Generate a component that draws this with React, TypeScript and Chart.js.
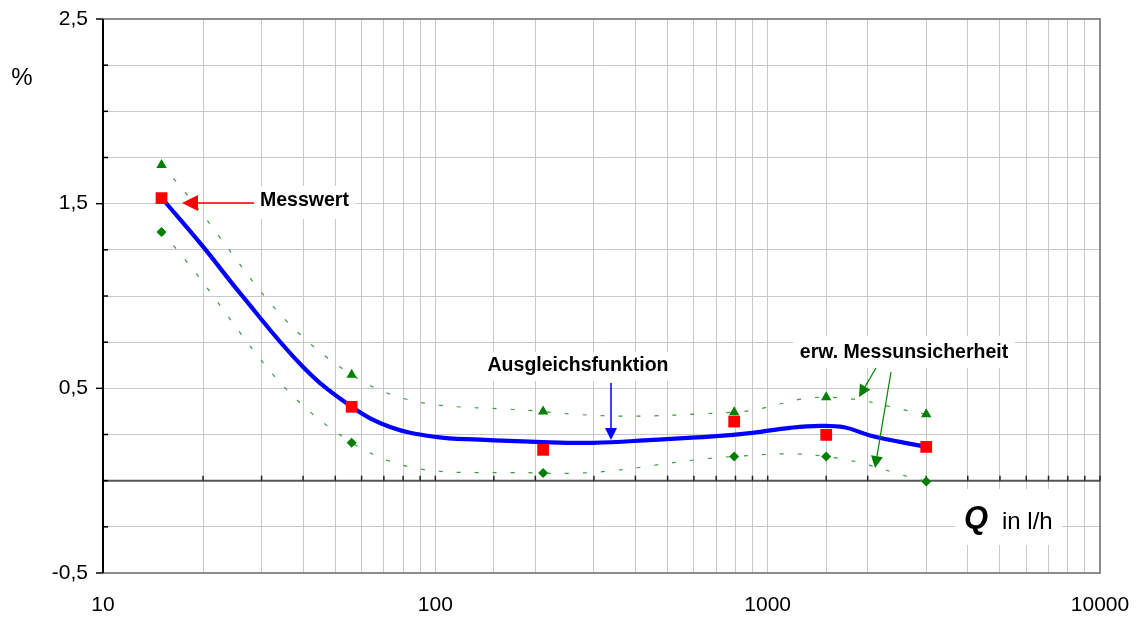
import React, { useEffect, useRef } from "react";
import { Chart, registerables } from "chart.js";

Chart.register(...registerables);

// Messwerte (Q in l/h, Abweichung in %)
const measQ = [15, 56, 211, 793, 1500, 3000];
const measV = [1.53, 0.4, 0.167, 0.32, 0.248, 0.183];
// erweiterte Messunsicherheit, obere und untere Grenze
const upperV = [1.71, 0.573, 0.374, 0.371, 0.452, 0.36];
const lowerV = [1.346, 0.206, 0.041, 0.131, 0.131, -0.005];
// Ausgleichsfunktion
const fitQ = [15, 20, 25.8, 40, 56, 73.1, 100, 136, 201, 298, 452, 685, 898, 1167, 1438, 1700, 2033, 2500, 3020];
const fitV = [1.532, 1.267, 1.017, 0.616, 0.4, 0.291, 0.237, 0.222, 0.21, 0.205, 0.221, 0.24, 0.259, 0.286, 0.297, 0.289, 0.245, 0.21, 0.183];

const yLabelValues = [-0.5, 0.5, 1.5, 2.5];
const FONT = "'Liberation Sans', Arial, sans-serif";

const pts = (xs: number[], ys: number[]) => xs.map((x, i) => ({ x, y: ys[i] }));

function arrow(ctx: CanvasRenderingContext2D, x1: number, y1: number, x2: number, y2: number, color: string, headLen: number, headHalf: number, lw: number) {
  const ang = Math.atan2(y2 - y1, x2 - x1);
  const bx = x2 - Math.cos(ang) * headLen;
  const by = y2 - Math.sin(ang) * headLen;
  ctx.save();
  ctx.strokeStyle = color;
  ctx.fillStyle = color;
  ctx.lineWidth = lw;
  ctx.beginPath();
  ctx.moveTo(x1, y1);
  ctx.lineTo(bx, by);
  ctx.stroke();
  ctx.beginPath();
  ctx.moveTo(x2, y2);
  ctx.lineTo(bx + Math.sin(ang) * headHalf, by - Math.cos(ang) * headHalf);
  ctx.lineTo(bx - Math.sin(ang) * headHalf, by + Math.cos(ang) * headHalf);
  ctx.closePath();
  ctx.fill();
  ctx.restore();
}

const noPad = (s: any) => {
  s.paddingTop = 0;
  s.paddingBottom = 0;
  s.paddingLeft = 0;
  s.paddingRight = 0;
};

const framePlugin = {
  id: "frame",
  beforeDatasetsDraw(chart: any) {
    const { ctx, chartArea: a, scales } = chart;
    const xs = scales.x, ys = scales.y;
    ctx.save();
    ctx.strokeStyle = "#8c8c8c";
    ctx.lineWidth = 2;
    ctx.beginPath();
    ctx.moveTo(a.left, a.top);
    ctx.lineTo(a.right, a.top);
    ctx.lineTo(a.right, a.bottom);
    ctx.lineTo(a.left, a.bottom);
    ctx.stroke();
    const y0 = ys.getPixelForValue(0);
    ctx.strokeStyle = "#555";
    ctx.lineWidth = 2;
    ctx.beginPath();
    ctx.moveTo(a.left, y0);
    ctx.lineTo(a.right, y0);
    ctx.stroke();
    ctx.lineWidth = 1.5;
    ctx.strokeStyle = "#222";
    xs.ticks.forEach((t: any) => {
      const px = xs.getPixelForValue(t.value);
      ctx.beginPath();
      ctx.moveTo(px, y0 - 5);
      ctx.lineTo(px, y0);
      ctx.stroke();
    });
    ctx.strokeStyle = "#000";
    ctx.lineWidth = 2;
    ctx.beginPath();
    ctx.moveTo(a.left, a.top);
    ctx.lineTo(a.left, a.bottom);
    ctx.stroke();
    ctx.lineWidth = 1.5;
    ys.ticks.forEach((t: any) => {
      const py = ys.getPixelForValue(t.value);
      const major = yLabelValues.some((v) => Math.abs(v - t.value) < 1e-6);
      ctx.beginPath();
      if (major) {
        ctx.moveTo(a.left - 7, py);
        ctx.lineTo(a.left, py);
      } else {
        ctx.moveTo(a.left, py);
        ctx.lineTo(a.left + 5, py);
      }
      ctx.stroke();
    });
    ctx.restore();
  },
  afterDatasetsDraw(chart: any) {
    const { ctx } = chart;
    ctx.save();
    ctx.fillStyle = "#fff";
    ctx.fillRect(254, 186, 101, 33);
    ctx.fillRect(483, 352, 188, 29);
    ctx.fillRect(793, 336, 222, 32);
    ctx.fillRect(955, 489, 107, 56);

    ctx.fillStyle = "#000";
    ctx.textBaseline = "middle";
    ctx.font = `bold 19.5px ${FONT}`;
    ctx.textAlign = "left";
    ctx.fillText("Messwert", 260, 201);
    ctx.textAlign = "center";
    ctx.fillText("Ausgleichsfunktion", 578, 366);
    ctx.fillText("erw. Messunsicherheit", 904, 353);

    ctx.textAlign = "left";
    ctx.textBaseline = "alphabetic";
    ctx.font = `italic bold 31px ${FONT}`;
    ctx.fillText("Q", 964, 528);
    ctx.font = `24px ${FONT}`;
    ctx.fillText("in l/h", 1002, 529);

    ctx.textAlign = "center";
    ctx.textBaseline = "middle";
    ctx.fillText("%", 22, 78);
    ctx.restore();

    arrow(ctx, 254, 203, 182, 203, "#ff0000", 16, 8, 1.5);
    arrow(ctx, 611, 383, 611, 440, "#0000ff", 12, 6, 1.5);
    arrow(ctx, 876, 368, 859, 397, "#008000", 12, 6, 1.2);
    arrow(ctx, 891, 372, 875, 468, "#008000", 12, 6, 1.2);
  },
};

export default function App() {
  const ref = useRef<HTMLCanvasElement | null>(null);
  useEffect(() => {
    if (!ref.current) return;
    const chart = new Chart(ref.current, {
      type: "line",
      data: {
        datasets: [
          {
            label: "Messwert",
            data: pts(measQ, measV),
            showLine: false,
            pointStyle: "rect",
            pointRadius: 8.3,
            pointBackgroundColor: "#ff0000",
            pointBorderColor: "#ff0000",
            pointBorderWidth: 0,
          },
          {
            label: "Ausgleichsfunktion",
            data: pts(fitQ, fitV),
            borderColor: "#0000ff",
            borderWidth: 4.2,
            tension: 0.4,
            pointRadius: 0,
          },
          {
            label: "obere Grenze",
            data: pts(measQ, upperV),
            borderColor: "#3c9a3c",
            borderWidth: 1.2,
            borderDash: [4, 14],
            tension: 0.4,
            pointStyle: "triangle",
            pointRadius: 6,
            pointBackgroundColor: "#008000",
            pointBorderColor: "#008000",
            pointBorderWidth: 0,
          },
          {
            label: "untere Grenze",
            data: pts(measQ, lowerV),
            borderColor: "#3c9a3c",
            borderWidth: 1.2,
            borderDash: [4, 14],
            tension: 0.4,
            pointStyle: "rectRot",
            pointRadius: 5,
            pointBackgroundColor: "#008000",
            pointBorderColor: "#008000",
            pointBorderWidth: 0,
          },
        ],
      },
      options: {
        animation: false,
        responsive: false,
        devicePixelRatio: 1,
        layout: { padding: { left: 0, right: 37, top: 19, bottom: 0 } },
        plugins: { legend: { display: false }, tooltip: { enabled: false } },
        scales: {
          x: {
            type: "logarithmic",
            min: 10,
            max: 10000,
            afterFit: (s: any) => {
              s.height = 44;
              noPad(s);
            },
            border: { display: false },
            grid: { color: "#c8c8c8", lineWidth: 1, drawTicks: false },
            ticks: {
              autoSkip: false,
              maxRotation: 0,
              minRotation: 0,
              padding: 20,
              color: "#000",
              font: { family: FONT, size: 21 },
              callback: (v: any) => {
                const l = Math.log10(Number(v));
                return Math.abs(l - Math.round(l)) < 1e-9 ? String(Math.round(Number(v))) : "";
              },
            },
          },
          y: {
            min: -0.5,
            max: 2.5,
            afterFit: (s: any) => {
              s.width = 103;
              noPad(s);
            },
            border: { display: false },
            grid: { color: "#c8c8c8", lineWidth: 1, drawTicks: false },
            ticks: {
              stepSize: 0.25,
              padding: 15,
              color: "#000",
              font: { family: FONT, size: 21 },
              callback: (v: any) => {
                const n = Number(v);
                return yLabelValues.some((y) => Math.abs(y - n) < 1e-6) ? String(n).replace(".", ",") : "";
              },
            },
          },
        },
      },
      plugins: [framePlugin],
    });
    return () => chart.destroy();
  }, []);
  return (
    <div style={{ position: "absolute", left: 0, top: 0, width: 1137, height: 617, background: "#fff" }}>
      <canvas ref={ref} width={1137} height={617} style={{ width: 1137, height: 617, display: "block" }} />
    </div>
  );
}
